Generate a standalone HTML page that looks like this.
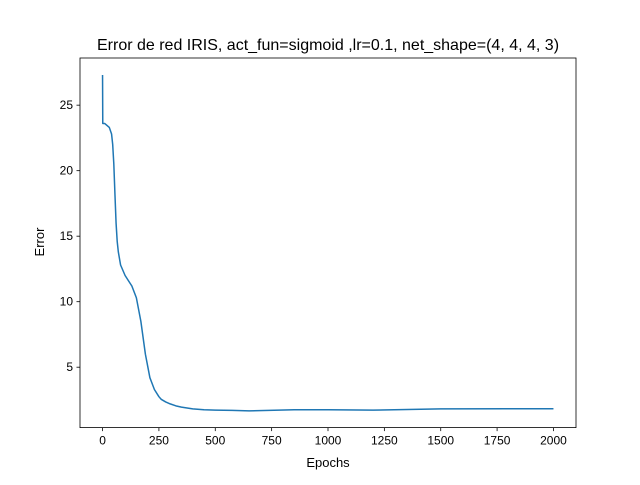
<!DOCTYPE html>
<html><head><meta charset="utf-8"><style>
body{margin:0;background:#fff}
svg text{font-family:"Liberation Sans","DejaVu Sans",sans-serif;fill:#000}
</style></head><body>
<svg id="chart" width="640" height="480">
<rect width="640" height="480" fill="#fff"/>
<text x="328" y="50" text-anchor="middle" font-size="16">Error de red IRIS, act_fun=sigmoid ,lr=0.1, net_shape=(4, 4, 4, 3)</text>
<g id="plot"></g>
<rect x="80" y="58" width="496" height="369.6" fill="none" stroke="#000" stroke-width="0.8"/>
<text x="328" y="467" text-anchor="middle" font-size="13">Epochs</text>
<text transform="translate(44,242) rotate(-90)" text-anchor="middle" font-size="13">Error</text>
</svg>
<script>
const epochs=[0,1,10,30,40,45,50,55,60,65,70,80,100,130,150,170,190,210,230,250,260,280,300,325,350,400,450,500,575,650,850,1000,1200,1500,2000];
const errors=[27.3,23.6,23.6,23.3,22.8,22,20.5,18.2,16,14.6,13.8,12.8,12,11.2,10.3,8.5,6,4.2,3.3,2.75,2.55,2.35,2.2,2.05,1.95,1.82,1.75,1.72,1.7,1.67,1.75,1.75,1.72,1.82,1.83];
const xTicks=[0,250,500,750,1000,1250,1500,1750,2000];
const yTicks=[5,10,15,20,25];
const X0=80,X1=576,Y0=427.6,Y1=58;
const xmin=-100,xmax=2100,ymin=0.39,ymax=28.6;
const sx=v=>X0+(v-xmin)/(xmax-xmin)*(X1-X0);
const sy=v=>Y0-(v-ymin)/(ymax-ymin)*(Y0-Y1);
const g=document.getElementById('plot');
const NS='http://www.w3.org/2000/svg';
function mk(t,a){const e=document.createElementNS(NS,t);for(const k in a)e.setAttribute(k,a[k]);g.appendChild(e);return e;}
xTicks.forEach(t=>{
  const l=mk('line',{x1:sx(t),x2:sx(t),y1:Y0,y2:Y0+3.5,stroke:'#000','stroke-width':0.8});
  
  
  const tx=mk('text',{x:sx(t),y:Y0+17,'text-anchor':'middle','font-size':12});
  tx.textContent=t;
  
  
});
yTicks.forEach(t=>{
  const l=mk('line',{x1:X0-3.5,x2:X0,y1:sy(t),y2:sy(t),stroke:'#000','stroke-width':0.8});
  
  
  const tx=mk('text',{x:X0-7,y:sy(t)+4,'text-anchor':'end','font-size':12});
  tx.textContent=t;
  
  
});
const p=mk('polyline',{points:epochs.map((e,i)=>sx(e)+','+sy(errors[i])).join(' '),fill:'none',stroke:'#1f77b4','stroke-width':1.5,'stroke-linejoin':'round'});


</script>
</body></html>
